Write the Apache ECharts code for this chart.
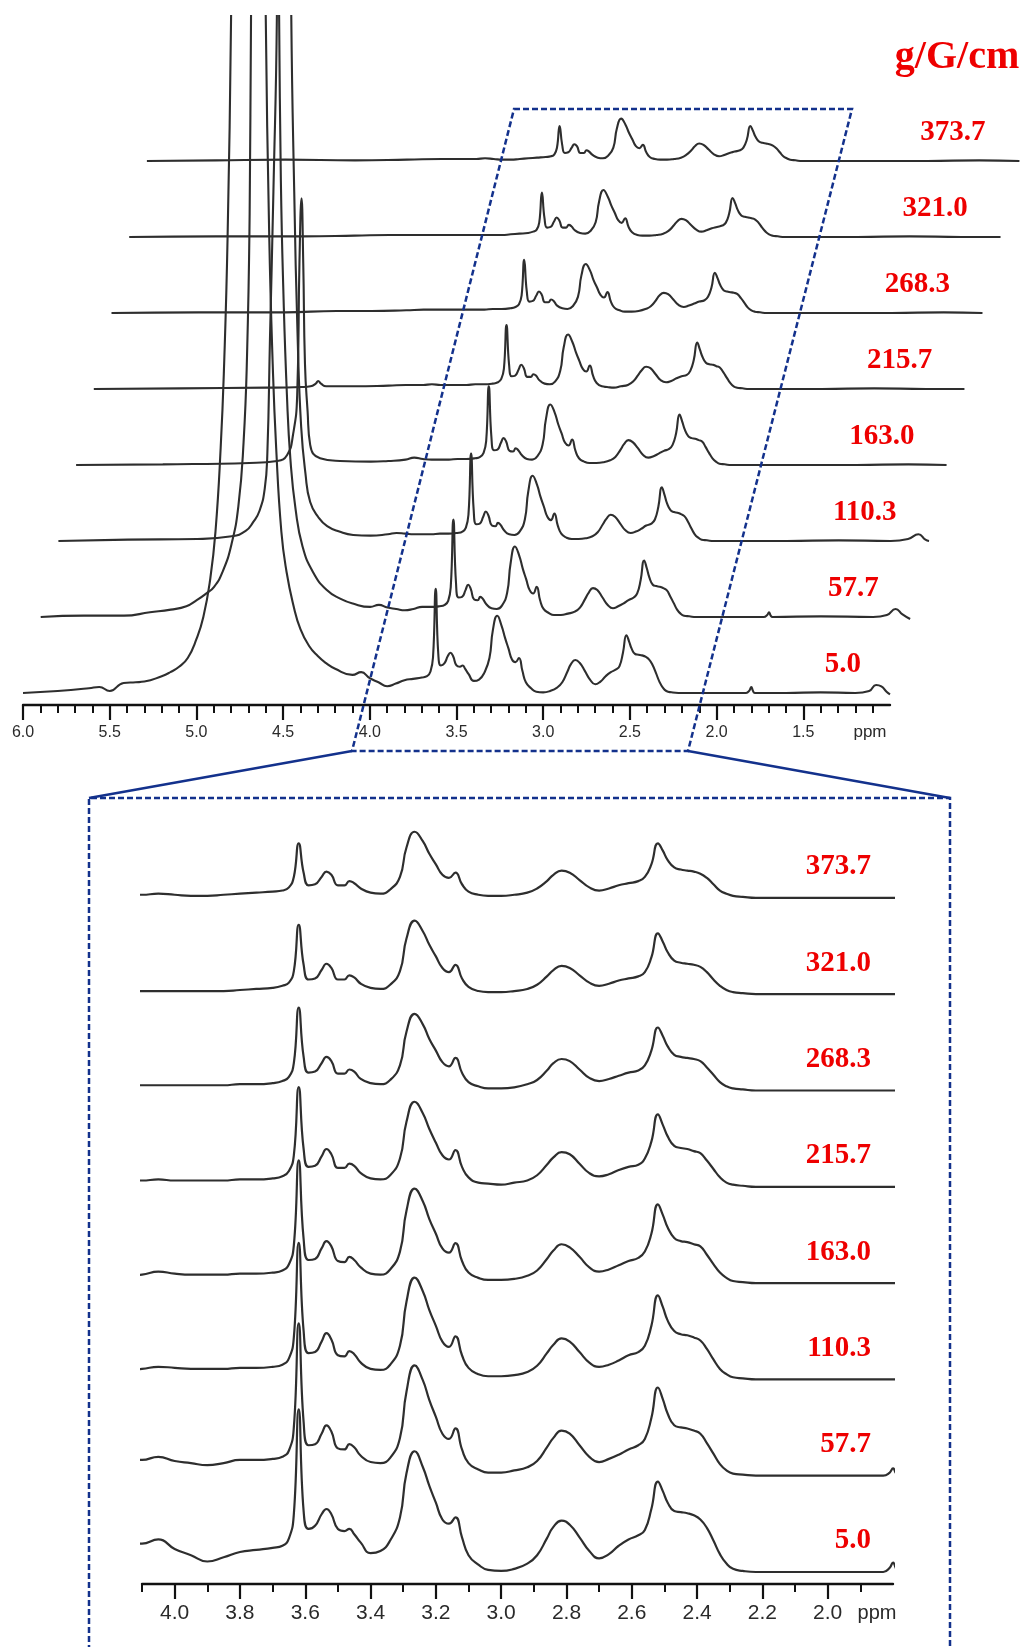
<!DOCTYPE html>
<html><head><meta charset="utf-8">
<script src="https://cdn.jsdelivr.net/npm/echarts@6/dist/echarts.min.js"></script>
<style>html,body{margin:0;padding:0;background:#fff}#c{width:1023px;height:1647px}</style>
</head><body><div id="c"></div>
<script>
// ---------------- DATA ----------------
const gradients = ['5.0', '57.7', '110.3', '163.0', '215.7', '268.3', '321.0', '373.7'];
const unitLabel = 'g/G/cm';

// shared chemical-shift grid for the metabolite region (ppm)
const metPpm = [4.10, 4.05, 4.00, 3.95, 3.90, 3.85, 3.80, 3.75, 3.70, 3.67, 3.65, 3.635, 3.62, 3.605, 3.59, 3.57, 3.55, 3.535, 3.52, 3.50,
  3.48, 3.465, 3.45, 3.43, 3.40, 3.37, 3.34, 3.31, 3.29, 3.265, 3.24, 3.22, 3.20, 3.18, 3.16, 3.14, 3.12, 3.10, 3.07, 3.04,
  3.00, 2.96, 2.92, 2.89, 2.86, 2.84, 2.815, 2.79, 2.76, 2.73, 2.70, 2.67, 2.64, 2.61, 2.58, 2.56, 2.54, 2.52, 2.505, 2.49,
  2.47, 2.45, 2.43, 2.41, 2.39, 2.37, 2.35, 2.33, 2.31, 2.29, 2.26, 2.22, 2.15, 2.05, 1.95, 1.85];

const met5_0   = [27,31,22,16,10,14,19,21,23,25,32,55,155,58,41,44,55,60,55,41,39,41,36,28,18,20,30,52,94,115,100,82,66,50,46,52,33,16,7,2,1,3,8,16,32,43,49,45,33,20,13,17,25,31,35,40,60,86,77,66,58,57,56,54,50,42,30,17,8,3,1,0,0,0,0,0];
const met57_7  = [15,18,14,12,10,12,15,15,16,18,24,46,145,51,29,30,40,48,42,26,25,30,27,19,13,12,17,36,80,105,91,72,56,40,35,45,25,12,6,3,3,5,8,14,27,36,43,40,29,18,13,16,20,25,29,35,55,84,73,59,48,46,45,43,40,31,21,11,5,2,1,0,0,0,0,0];
const met110_3 = [10,12,11,10,10,10,11,11,12,14,20,40,130,46,25,26,36,44,38,23,22,27,24,16,10,9,14,32,74,97,84,66,51,36,31,41,23,11,5,3,3,4,7,13,25,33,39,36,26,16,12,14,18,23,26,32,51,80,69,56,46,43,42,40,37,29,19,10,5,2,1,0,0,0,0,0];
const met163_0 = [8,11,9,8,8,8,9,9,10,12,18,36,117,42,22,23,33,40,35,21,20,25,22,15,9,8,13,30,69,90,78,61,47,33,29,38,21,10,5,3,3,4,7,12,23,31,37,34,25,15,11,13,17,21,24,30,47,75,65,53,43,40,39,37,35,27,18,10,5,2,1,0,0,0,0,0];
const met215_7 = [6,7,6,6,6,6,7,7,8,10,15,30,95,36,19,20,29,36,31,18,18,22,20,13,8,7,11,27,62,81,70,55,42,30,26,35,19,9,4,3,2,4,6,11,21,28,33,31,22,13,10,12,16,19,21,27,43,69,59,48,39,37,36,34,32,25,17,9,4,2,1,0,0,0,0,0];
const met268_3 = [5,5,5,5,5,5,6,6,7,9,13,26,79,32,17,18,26,32,28,16,16,20,18,11,7,6,10,24,56,73,63,49,38,27,23,31,17,8,4,2,2,3,6,10,19,26,30,28,20,12,9,11,14,17,19,24,38,60,52,42,34,32,31,30,28,22,15,8,4,2,1,0,0,0,0,0];
const met321_0 = [3,3,3,3,3,3,4,5,6,8,11,22,66,28,14,15,23,29,25,14,14,18,16,10,6,5,9,22,53,70,60,47,36,25,21,28,15,7,3,2,2,3,5,9,17,23,27,25,18,11,8,10,13,15,17,21,35,58,50,40,32,30,29,28,26,21,14,8,4,2,1,0,0,0,0,0];
const met373_7 = [3,4,3,2,2,3,4,5,6,7,10,20,52,24,12,13,20,25,22,12,12,16,14,9,5,4,8,20,48,63,54,42,32,22,19,24,13,6,3,2,2,3,5,9,16,22,26,24,17,10,7,9,12,14,16,20,32,52,45,36,29,27,26,25,23,19,13,7,4,2,1,0,0,0,0,0];

// water region (ppm, intensity) 6.0 -> 4.2
const water5_0   = [[6.0,0],[5.8,3],[5.62,7],[5.56,9],[5.5,3],[5.42,15],[5.35,16],[5.3,17],[5.2,25],[5.15,31],[5.1,39],[5.05,52],[5.0,80],[4.96,113],[4.92,170],[4.89,240],[4.86,365],[4.84,490],[4.82,680],[4.80,1006],[4.78,1500],[4.74,2600],[4.70,3000],[4.66,2600],[4.62,1500],[4.60,1006],[4.58,680],[4.56,490],[4.54,365],[4.51,240],[4.48,180],[4.44,130],[4.40,95],[4.35,70],[4.30,55],[4.25,44],[4.20,36]];
const water57_7  = [[6.0,0],[5.75,2],[5.52,2],[5.37,7],[5.25,11],[5.16,16],[5.10,25],[5.05,34],[5.0,45],[4.95,68],[4.90,108],[4.86,165],[4.83,260],[4.81,390],[4.795,600],[4.787,894],[4.76,1500],[4.706,2500],[4.65,1500],[4.625,894],[4.615,650],[4.60,480],[4.58,330],[4.56,235],[4.53,160],[4.49,105],[4.43,67],[4.35,40],[4.27,27],[4.20,20]];
const water110_3 = [[6.0,0],[5.6,2],[5.2,3],[5.0,7],[4.92,15],[4.877,28],[4.84,45],[4.81,78],[4.795,130],[4.78,300],[4.76,520],[4.74,781],[4.70,2000],[4.657,781],[4.64,520],[4.62,300],[4.60,170],[4.575,100],[4.548,58],[4.50,35],[4.45,22],[4.38,14],[4.30,9],[4.20,8]];
const water163_0 = [[6.0,0],[5.5,1],[5.0,3],[4.84,6],[4.783,15],[4.749,45],[4.725,104],[4.712,300],[4.70,397],[4.69,300],[4.68,150],[4.665,80],[4.65,30],[4.593,10],[4.478,6],[4.30,5],[4.20,6]];
const water215_7 = [[6.0,0],[5.5,1],[5.0,2],[4.80,3],[4.75,4],[4.72,8],[4.706,12],[4.69,8],[4.66,4],[4.5,4],[4.3,5],[4.2,6]];
const water268_3 = [[6.0,0],[5.5,1],[5.0,1],[4.7,3],[4.5,3],[4.3,4],[4.2,5]];
const water321_0 = [[6.0,0],[5.5,1],[5.0,1],[4.7,2],[4.5,3],[4.3,3],[4.2,3]];
const water373_7 = [[6.0,0],[5.6,1],[5.2,2],[4.8,1],[4.5,2],[4.3,3],[4.2,3]];

// high-field tail 1.83 -> ~0.97
const tail5_0   = [[1.83,0],[1.81,4],[1.80,9],[1.79,3],[1.78,0],[1.6,0],[1.4,1],[1.2,0],[1.12,3],[1.08,12],[1.05,10],[1.02,2],[1.0,-2]];
const tail57_7  = [[1.83,0],[1.81,3],[1.80,7],[1.79,2],[1.78,0],[1.5,1],[1.2,0],[1.12,3],[1.07,12],[1.03,4],[0.986,-3]];
const tail110_3 = [[1.8,0],[1.5,1],[1.2,0],[1.1,3],[1.04,10],[1.0,2],[0.979,0]];
const tail163_0 = [[1.8,0],[1.5,0],[1.2,1],[0.98,0]];
const tail215_7 = [[1.8,0],[1.5,1],[1.2,0],[0.979,0]];
const tail268_3 = [[1.8,0],[1.5,0],[1.2,1],[0.977,0]];
const tail321_0 = [[1.8,0],[1.5,1],[1.2,0],[0.975,0]];
const tail373_7 = [[1.8,0],[1.5,0],[1.2,1],[0.968,0]];

// axis ticks
const topMajorTicks = [6.0, 5.5, 5.0, 4.5, 4.0, 3.5, 3.0, 2.5, 2.0, 1.5];
const topMinorTicks = [5.9,5.8,5.7,5.6,5.4,5.3,5.2,5.1,4.9,4.8,4.7,4.6,4.4,4.3,4.2,4.1,3.9,3.8,3.7,3.6,3.4,3.3,3.2,3.1,2.9,2.8,2.7,2.6,2.4,2.3,2.2,2.1,1.9,1.8,1.7,1.6,1.4,1.3,1.2,1.1];
const bottomMajorTicks = [4.0, 3.8, 3.6, 3.4, 3.2, 3.0, 2.8, 2.6, 2.4, 2.2, 2.0];
const bottomMinorTicks = [4.1, 3.9, 3.7, 3.5, 3.3, 3.1, 2.9, 2.7, 2.5, 2.3, 2.1, 1.9];

// ---------------- BUILD ----------------
const mets   = [met5_0, met57_7, met110_3, met163_0, met215_7, met268_3, met321_0, met373_7];
const waters = [water5_0, water57_7, water110_3, water163_0, water215_7, water268_3, water321_0, water373_7];
const tails  = [tail5_0, tail57_7, tail110_3, tail163_0, tail215_7, tail268_3, tail321_0, tail373_7];

const TOP = {left0: 23, dx: 17.7, pxPerPpm: 173.4, clipTop: 16, base0: 693, dy: 76, below: 12, ppu: 0.672};
const BOT = {left: 142, width: 751, base0: 1572, dy: 96.3, above: 190, below: 12, ppu: 1.05};
const LINE = '#2e2e2e';
const BLUE = '#13318c';
const RED = '#ee0000';
const AXISFONT = '"Liberation Sans", Arial, sans-serif';
const SERIF = '"Liberation Serif", "Times New Roman", serif';

const grids = [], xAxes = [], yAxes = [], series = [];
function traceData(k) {
  return waters[k].concat(metPpm.map((p, i) => [p, mets[k][i]])).concat(tails[k]);
}
const hiddenX = (gi, min, max) => ({type: 'value', gridIndex: gi, min, max, inverse: true, show: false});

for (let k = 0; k < 8; k++) {
  const base = TOP.base0 - TOP.dy * k;
  const lo = k === 0 ? 1.0 : 0.95;
  grids.push({left: TOP.left0 + TOP.dx * k, top: TOP.clipTop, width: TOP.pxPerPpm * (6.0 - lo), height: base + TOP.below - TOP.clipTop, containLabel: false, outerBoundsMode: 'none'});
  xAxes.push(hiddenX(k, lo, 6.0));
  yAxes.push({type: 'value', gridIndex: k, min: -TOP.below / TOP.ppu, max: (base - TOP.clipTop) / TOP.ppu, show: false});
}
for (let k = 0; k < 8; k++) {
  const base = BOT.base0 - BOT.dy * k;
  grids.push({left: BOT.left, top: base - BOT.above, width: BOT.width, height: BOT.above + BOT.below, containLabel: false, outerBoundsMode: 'none'});
  xAxes.push(hiddenX(8 + k, 1.8, 4.1));
  yAxes.push({type: 'value', gridIndex: 8 + k, min: -BOT.below / BOT.ppu, max: BOT.above / BOT.ppu, show: false});
}
function majorAxis(gi, min, max, ticks, fontSize, margin) {
  return {type: 'value', gridIndex: gi, min, max, inverse: true, position: 'bottom',
    axisLine: {show: true, onZero: false, lineStyle: {color: '#111', width: 2.4}},
    axisTick: {show: true, length: 15, lineStyle: {color: '#111', width: 2.2}, customValues: ticks},
    axisLabel: {show: true, customValues: ticks, margin, color: '#2a2a2a', fontSize, fontFamily: AXISFONT, formatter: v => Number(v).toFixed(1)},
    splitLine: {show: false}, minorTick: {show: false}};
}
function minorAxis(gi, min, max, ticks) {
  return {type: 'value', gridIndex: gi, min, max, inverse: true, position: 'bottom',
    axisLine: {show: false, onZero: false},
    axisTick: {show: true, length: 8, lineStyle: {color: '#111', width: 2}, customValues: ticks},
    axisLabel: {show: false}, splitLine: {show: false}};
}
xAxes[0] = majorAxis(0, 1.0, 6.0, topMajorTicks, 16, 20);
xAxes[8] = majorAxis(8, 1.8, 4.1, bottomMajorTicks, 21, 19);
xAxes.push(minorAxis(0, 1.0, 6.0, topMinorTicks));
xAxes.push(minorAxis(8, 1.8, 4.1, bottomMinorTicks));

for (let k = 0; k < 8; k++) {
  const d = traceData(k);
  series.push({type: 'line', xAxisIndex: k, yAxisIndex: k, data: d, showSymbol: false, smooth: 0.5, clip: true,
    lineStyle: {color: LINE, width: 2.1}, silent: true, z: 2});
  series.push({type: 'line', xAxisIndex: 8 + k, yAxisIndex: 8 + k, data: d, showSymbol: false, smooth: 0.5, clip: true,
    lineStyle: {color: LINE, width: 2.2}, silent: true, z: 2});
}

const graphics = [];
const txt = (text, x, y, font, fill, align) => ({type: 'text', x, y, z: 20,
  style: {text, font, fill, textAlign: align, textVerticalAlign: 'middle', align, verticalAlign: 'middle'}});
for (let k = 0; k < 8; k++) {
  graphics.push(txt(gradients[k], 861 + 17.8 * k, TOP.base0 - TOP.dy * k - 28, 'bold 29px ' + SERIF, RED, 'right'));
  graphics.push(txt(gradients[k], 871, BOT.base0 - BOT.dy * k - 31, 'bold 29px ' + SERIF, RED, 'right'));
}
graphics.push(txt(unitLabel, 957, 58, 'bold 40px ' + SERIF, RED, 'center'));
graphics.push(txt('ppm', 870, 732, '17px ' + AXISFONT, '#2a2a2a', 'center'));
graphics.push(txt('ppm', 877, 1613, '20px ' + AXISFONT, '#2a2a2a', 'center'));
graphics.push({type: 'polygon', z: 20, shape: {points: [[514,109],[852,109],[688,751],[352,751]]},
  style: {fill: null, stroke: BLUE, lineWidth: 2.5, lineDash: [6, 3]}});
graphics.push({type: 'polyline', z: 20, shape: {points: [[89,1660],[89,798],[950,798],[950,1660]]},
  style: {fill: null, stroke: BLUE, lineWidth: 2.5, lineDash: [6, 3]}});
graphics.push({type: 'line', z: 20, shape: {x1: 352, y1: 751, x2: 89, y2: 798}, style: {stroke: BLUE, lineWidth: 2.5}});
graphics.push({type: 'line', z: 20, shape: {x1: 688, y1: 751, x2: 950, y2: 798}, style: {stroke: BLUE, lineWidth: 2.5}});

const chart = echarts.init(document.getElementById('c'), null, {renderer: 'canvas'});
chart.setOption({animation: false, backgroundColor: '#fff', grid: grids, xAxis: xAxes, yAxis: yAxes, series, graphic: graphics});
</script></body></html>
